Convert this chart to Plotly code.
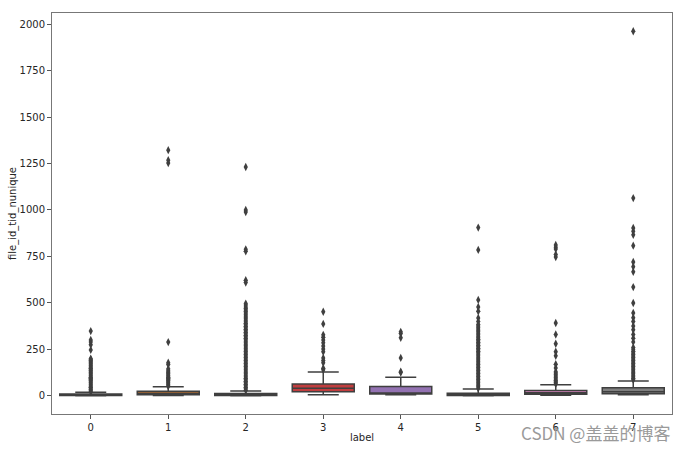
import plotly.graph_objects as go

labels = [0, 1, 2, 3, 4, 5, 6, 7]
q1 = [2, 6, 2, 22, 10, 2, 8, 11]
median = [5, 14, 5, 41, 13, 5, 16, 22]
q3 = [9, 24, 12, 64, 50, 13, 28, 43]
lower = [0, 1, 0, 6, 6, 0, 3, 5]
upper = [19, 48, 26, 128, 100, 37, 59, 79]
colors = ["#3274a1", "#e1812c", "#3a923a", "#c03d3e", "#9372b2", "#845b53", "#d684bd", "#7f7f7f"]

out0 = [22, 28, 34, 40, 46, 52, 58, 64, 70, 76, 82, 88, 94, 100, 106, 112, 118, 124, 130,
        136, 142, 148, 154, 160, 166, 172, 178, 184, 190, 196, 200, 247, 275, 290, 300, 348]
out1 = [52, 58, 64, 70, 76, 82, 88, 94, 100, 106, 112, 118, 124, 130, 138, 145, 168, 178,
        289, 1253, 1268, 1322]
out2 = [30, 38, 46, 54, 62, 70, 78, 86, 94, 102, 110, 118, 126, 134, 142, 150, 158, 166, 174,
        182, 190, 198, 206, 214, 222, 230, 238, 246, 254, 262, 270, 278, 286, 294, 302, 310,
        318, 326, 334, 342, 350, 358, 366, 374, 382, 390, 398, 406, 414, 422, 430, 438, 446,
        454, 462, 470, 478, 488, 496, 610, 622, 778, 788, 989, 1000, 1231]
out3 = [140, 148, 178, 190, 204, 237, 252, 268, 285, 300, 315, 328, 387, 452]
out4 = [125, 130, 204, 312, 335, 344]
out5 = [40, 48, 56, 64, 72, 80, 88, 96, 104, 112, 120, 128, 136, 144, 152, 160, 168, 176,
        184, 192, 200, 208, 216, 224, 232, 240, 248, 256, 264, 272, 280, 288, 296, 304, 312,
        320, 328, 336, 344, 352, 360, 368, 376, 384, 400, 419, 455, 478, 516, 785, 905]
out6 = [64, 70, 76, 82, 90, 98, 106, 114, 122, 130, 150, 170, 215, 237, 280, 330, 392,
        747, 760, 790, 800, 812]
out7 = [86, 94, 102, 110, 118, 126, 134, 142, 150, 158, 166, 174, 182, 190, 198, 206, 214,
        222, 230, 240, 250, 260, 290, 310, 330, 355, 375, 400, 420, 446, 499, 585, 667, 695,
        720, 808, 866, 885, 903, 1064, 1962]
outliers = [out0, out1, out2, out3, out4, out5, out6, out7]

line_col = "#3f3f3f"
fig = go.Figure()
for i, lab in enumerate(labels):
    fig.add_trace(go.Box(
        x=[lab], q1=[q1[i]], median=[median[i]], q3=[q3[i]],
        lowerfence=[lower[i]], upperfence=[upper[i]],
        width=0.8, whiskerwidth=0.5, fillcolor=colors[i],
        line=dict(color=line_col, width=1.5), boxpoints=False,
        showlegend=False, hoverinfo="skip"))
    fig.add_trace(go.Scatter(
        x=[lab] * len(outliers[i]), y=outliers[i], mode="markers",
        marker=dict(symbol="diamond-tall", size=6, color=line_col),
        showlegend=False, hoverinfo="skip"))

font = dict(family="DejaVu Sans", size=10, color="#262626")
fig.update_layout(
    width=683, height=451, plot_bgcolor="white", paper_bgcolor="white",
    margin=dict(l=52, r=11, t=13, b=37, autoexpand=False), font=font,
    xaxis=dict(range=[-0.5, 7.5], tickvals=labels, ticktext=[str(v) for v in labels],
               showgrid=False, zeroline=False, showline=True, mirror=True,
               linecolor="#777777", linewidth=1, ticks="outside", ticklen=4,
               tickcolor="#555555", automargin=False,
               title=dict(text="label", font=font, standoff=1)),
    yaxis=dict(range=[-98, 2060], tickvals=[0, 250, 500, 750, 1000, 1250, 1500, 1750, 2000],
               showgrid=False, zeroline=False, showline=True, mirror=True,
               linecolor="#777777", linewidth=1, ticks="outside", ticklen=4,
               tickcolor="#555555", automargin=False,
               title=dict(text="file_id_tid_nunique", font=font, standoff=1)),
)
fig.add_annotation(text="CSDN @盖盖的博客", xref="paper", yref="paper", x=1.0, y=-0.045,
                   xanchor="right", yanchor="middle", showarrow=False,
                   font=dict(family="Noto Sans CJK SC", size=17, color="#9a9a9a"))
fig.write_html("out.html")
